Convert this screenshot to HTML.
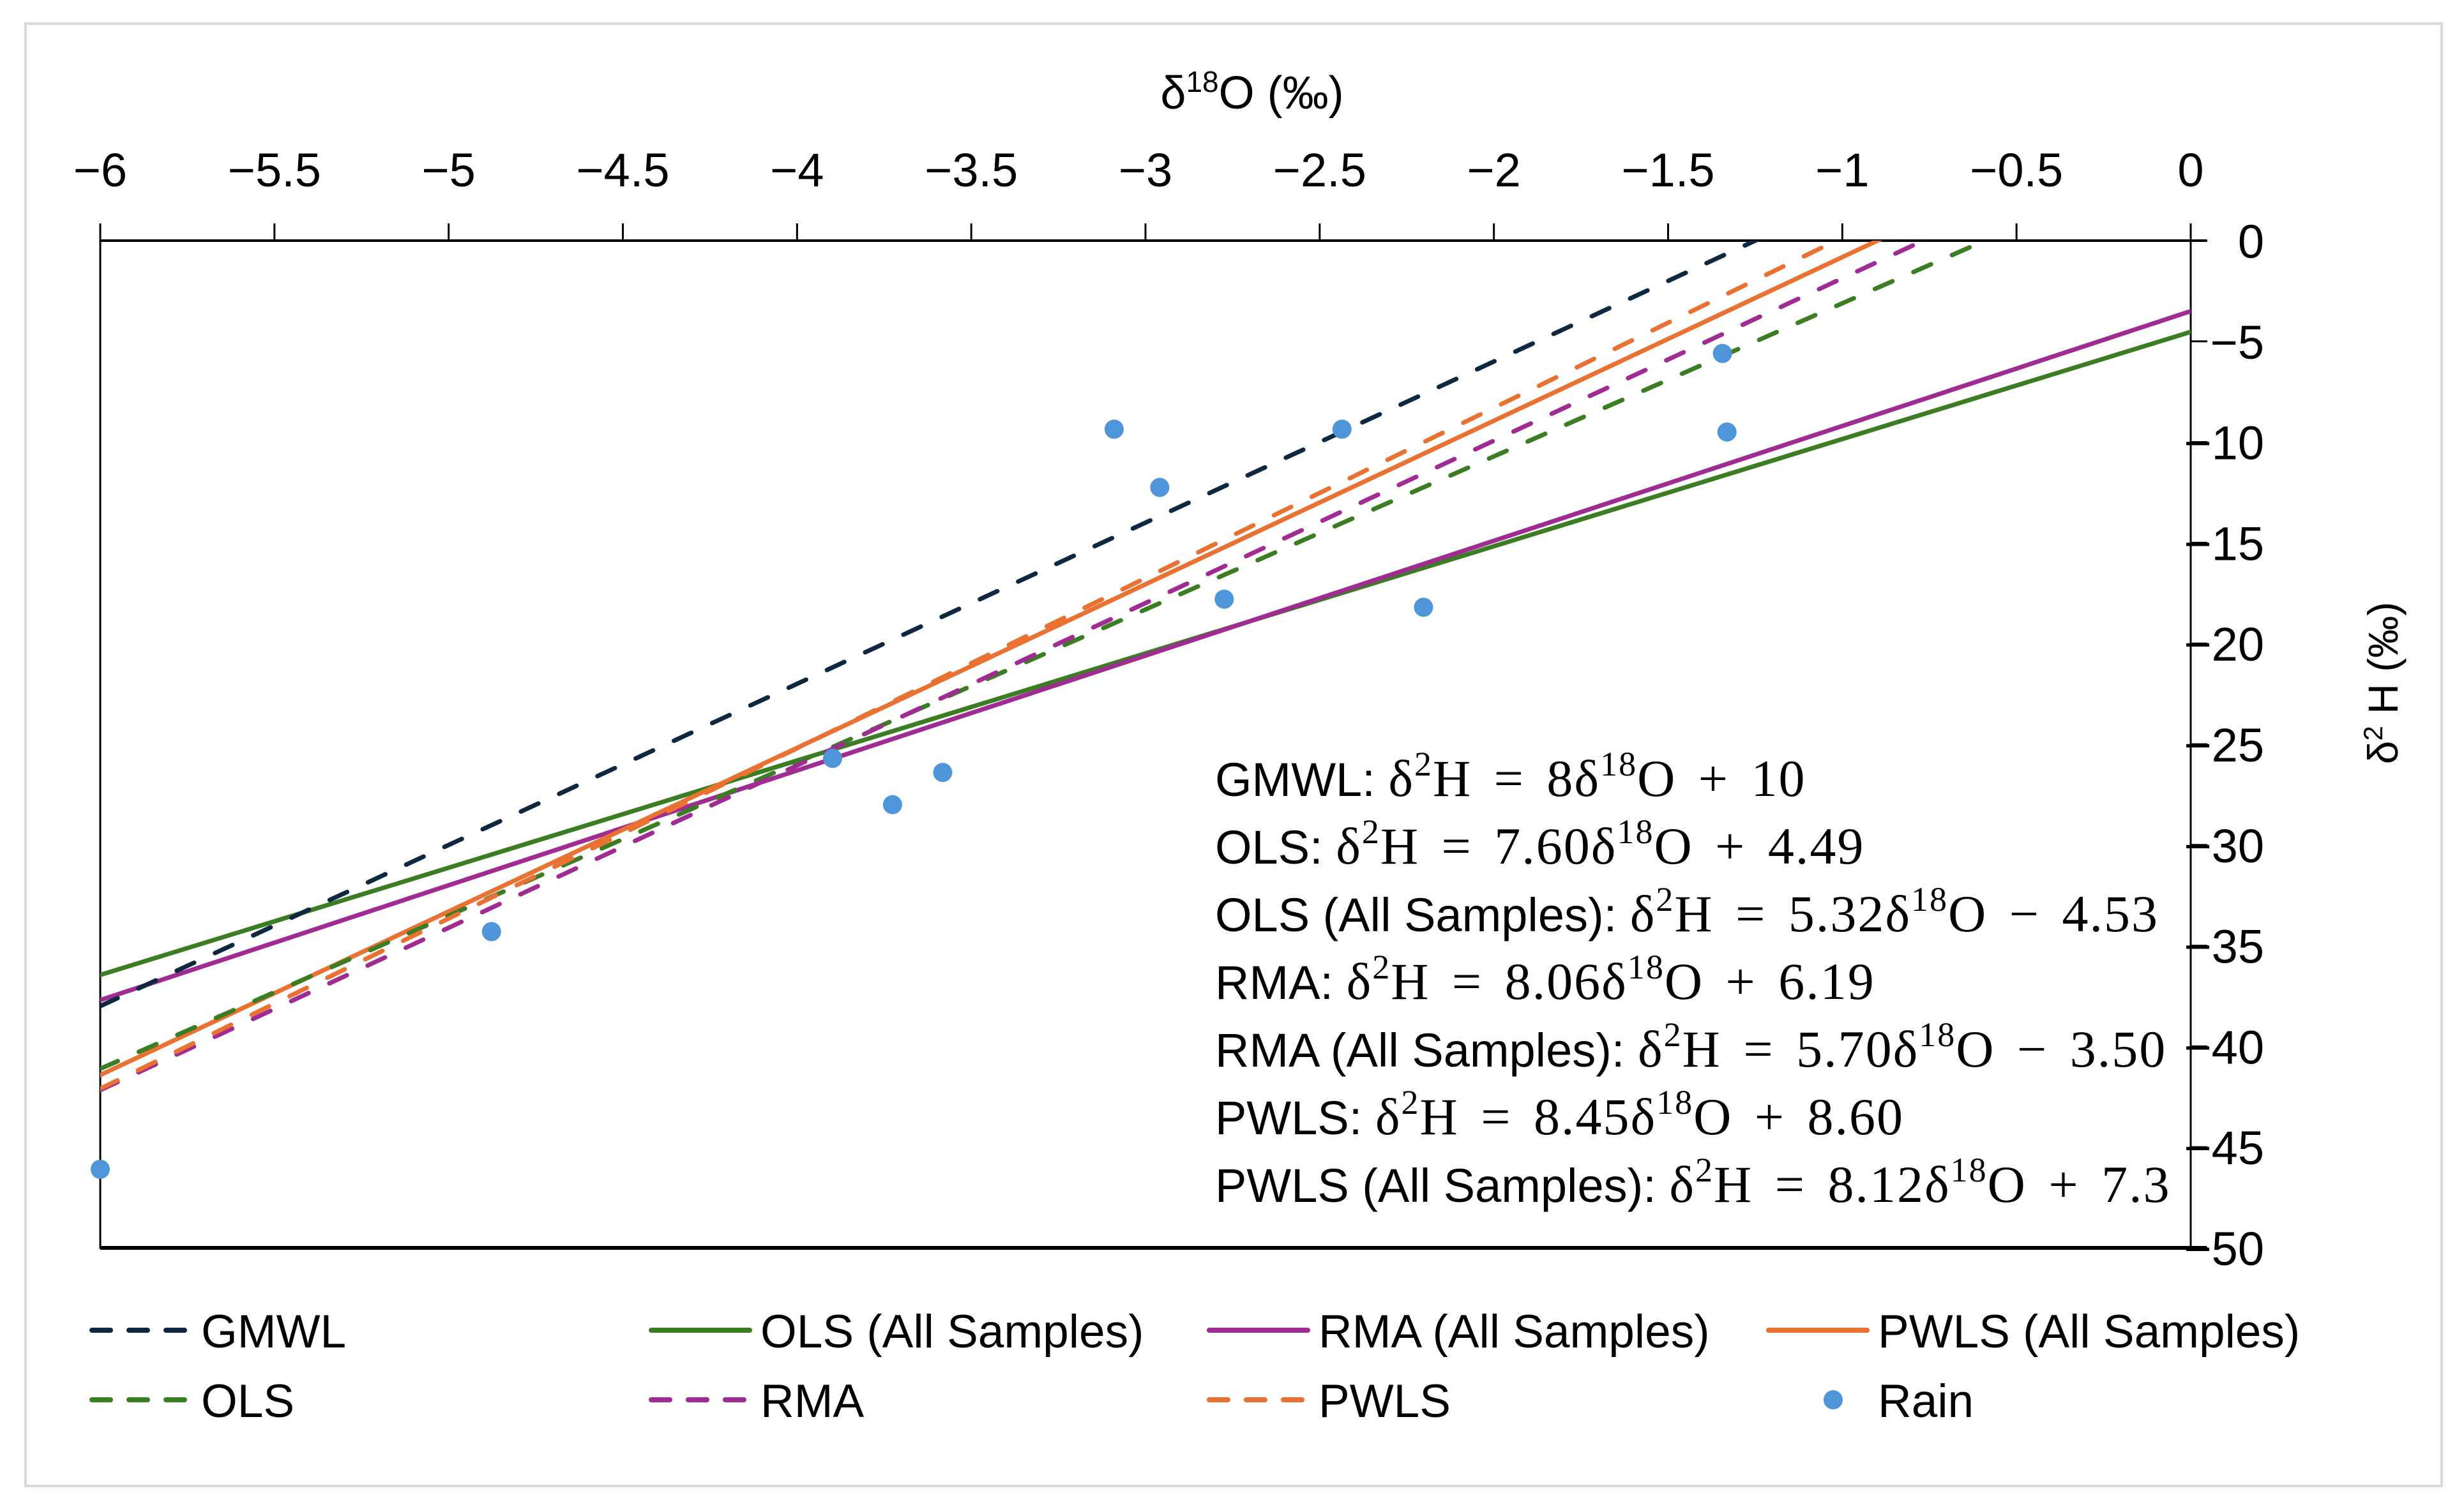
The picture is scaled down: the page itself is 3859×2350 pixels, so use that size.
<!DOCTYPE html>
<html><head><meta charset="utf-8"><style>
html,body{margin:0;padding:0;background:#fff}
svg{display:block}
text{font-family:"Liberation Sans",sans-serif;fill:#000}
.m{font-family:"Liberation Serif",serif;font-size:82px;word-spacing:12px;letter-spacing:2px}
</style></head><body>
<svg id="chart" width="3859" height="2350" viewBox="0 0 3859 2350">
<rect x="40" y="37" width="3784" height="2291" fill="#fff" stroke="#d9d9d9" stroke-width="4"/>
<defs><clipPath id="pc"><rect x="157" y="377" width="3274" height="1578"/></clipPath></defs>
<g id="axes"></g>
<g id="lines" clip-path="url(#pc)"></g>
<g id="pts"></g>
<text x="1961" y="170" font-size="72" text-anchor="middle">δ<tspan font-size="46" dy="-26">18</tspan><tspan dy="26">O (‰)</tspan></text>
<text transform="translate(3755,1070) rotate(-90)" font-size="66" text-anchor="middle">δ<tspan font-size="42" dy="-24">2</tspan><tspan dy="24"> H (‰)</tspan></text>
<g font-size="74">
<text x="1903" y="1247">GMWL: <tspan class="m">δ<tspan font-size="54" dy="-32">2</tspan><tspan dy="32">H = 8δ</tspan><tspan font-size="54" dy="-32">18</tspan><tspan dy="32">O + 10</tspan></tspan></text>
<text x="1903" y="1353">OLS: <tspan class="m">δ<tspan font-size="54" dy="-32">2</tspan><tspan dy="32">H = 7.60δ</tspan><tspan font-size="54" dy="-32">18</tspan><tspan dy="32">O + 4.49</tspan></tspan></text>
<text x="1903" y="1459">OLS (All Samples): <tspan class="m">δ<tspan font-size="54" dy="-32">2</tspan><tspan dy="32">H = 5.32δ</tspan><tspan font-size="54" dy="-32">18</tspan><tspan dy="32">O − 4.53</tspan></tspan></text>
<text x="1903" y="1565">RMA: <tspan class="m">δ<tspan font-size="54" dy="-32">2</tspan><tspan dy="32">H = 8.06δ</tspan><tspan font-size="54" dy="-32">18</tspan><tspan dy="32">O + 6.19</tspan></tspan></text>
<text x="1903" y="1671">RMA (All Samples): <tspan class="m">δ<tspan font-size="54" dy="-32">2</tspan><tspan dy="32">H = 5.70δ</tspan><tspan font-size="54" dy="-32">18</tspan><tspan dy="32">O − 3.50</tspan></tspan></text>
<text x="1903" y="1777">PWLS: <tspan class="m">δ<tspan font-size="54" dy="-32">2</tspan><tspan dy="32">H = 8.45δ</tspan><tspan font-size="54" dy="-32">18</tspan><tspan dy="32">O + 8.60</tspan></tspan></text>
<text x="1903" y="1883">PWLS (All Samples): <tspan class="m">δ<tspan font-size="54" dy="-32">2</tspan><tspan dy="32">H = 8.12δ</tspan><tspan font-size="54" dy="-32">18</tspan><tspan dy="32">O + 7.3</tspan></tspan></text>
</g>
<g id="legend"></g>
</svg>
<script>
const xTicks=[-6,-5.5,-5,-4.5,-4,-3.5,-3,-2.5,-2,-1.5,-1,-0.5,0];
const yTicks=[0,-5,-10,-15,-20,-25,-30,-35,-40,-45,-50];
const seriesNames=["GMWL","OLS (All Samples)","RMA (All Samples)","PWLS (All Samples)","OLS","RMA","PWLS"];
const slopes=[8,5.32,5.70,8.12,7.60,8.06,8.45];
const intercepts=[10,-4.53,-3.50,7.3,4.49,6.19,8.60];
const dashed=[true,false,false,false,true,true,true];
const colors=["#0e2841","#3a7d22","#a02b93","#e97132","#3a7d22","#a02b93","#e97132"];
const rainX=[-6,-4.877,-3.898,-3.726,-3.582,-3.09,-2.959,-2.774,-2.436,-2.202,-1.344,-1.331];
const rainY=[-46.1,-34.3,-25.7,-28.0,-26.4,-9.36,-12.25,-17.8,-9.36,-18.2,-5.6,-9.5];

const NS="http://www.w3.org/2000/svg";
const L=157,R=3431,T=377,B=1955;
const sx=v=>L+(v+6)/6*(R-L);
const sy=v=>T+(-v)/50*(B-T);
function mk(tag,attrs,parent){const e=document.createElementNS(NS,tag);for(const k in attrs)e.setAttribute(k,attrs[k]);parent.appendChild(e);return e;}
const axes=document.getElementById('axes');
let e=mk('rect',{x:L,y:T,width:R-L,height:B-T,fill:'none',stroke:'#000','stroke-width':3},axes);


e=mk('line',{x1:L,y1:T,x2:R+25,y2:T,stroke:'#000','stroke-width':4},axes);


e=mk('line',{x1:L,y1:B,x2:R+25,y2:B,stroke:'#000','stroke-width':6},axes);


xTicks.forEach(v=>{
  const t=mk('line',{x1:sx(v),y1:T-27,x2:sx(v),y2:T,stroke:'#000','stroke-width':3},axes);
  
  
  const l=mk('text',{x:sx(v),y:292,'font-size':74,'text-anchor':'middle'},axes);
  l.textContent=(v<0?'−':'')+Math.abs(v);
  
  
});
yTicks.forEach(v=>{
  const t=mk('line',{x1:R,y1:sy(v),x2:R+26,y2:sy(v),stroke:'#000','stroke-width':3},axes);
  
  
  const l=mk('text',{x:3546,y:sy(v)+27,'font-size':74,'text-anchor':'end'},axes);
  l.textContent=(v<0?'−':'')+Math.abs(v);
  
  
});
const lines=document.getElementById('lines');
const order=[1,2,3,4,5,6,0];
order.forEach(i=>{
  const a={x1:sx(-6),y1:sy(slopes[i]*-6+intercepts[i]),x2:sx(0),y2:sy(intercepts[i]),stroke:colors[i],'stroke-width':7,'stroke-linecap':'round'};
  if(dashed[i])a['stroke-dasharray']='30 36';
  const ln=mk('line',a,lines);
  
  
});
const pts=document.getElementById('pts');
rainX.forEach((x,i)=>{
  const c=mk('circle',{cx:sx(x),cy:sy(rainY[i]),r:15,fill:'#4e95d9'},pts);
  
  
});
const leg=document.getElementById('legend');
const colX=[140,1016,1890,2766];
const legItems=[[0,0,0],[1,1,0],[2,2,0],[3,3,0],[4,0,1],[5,1,1],[6,2,1],[-1,3,1]];
legItems.forEach(([si,col,row])=>{
  const x=colX[col],y=row?2193:2084;
  const g=mk('g',{},leg);
  
  
  if(si>=0){
    const a={x1:x+4,y1:y,x2:x+158,y2:y,stroke:colors[si],'stroke-width':8,'stroke-linecap':'round'};
    if(dashed[si])a['stroke-dasharray']='29 29';
    mk('line',a,g);
  }else{
    mk('circle',{cx:x+105,cy:y,r:15,fill:'#4e95d9'},g);
  }
  const t=mk('text',{x:x+175,y:y+27,'font-size':73},g);
  t.textContent=si>=0?seriesNames[si]:'Rain';
});
</script>
</body></html>
